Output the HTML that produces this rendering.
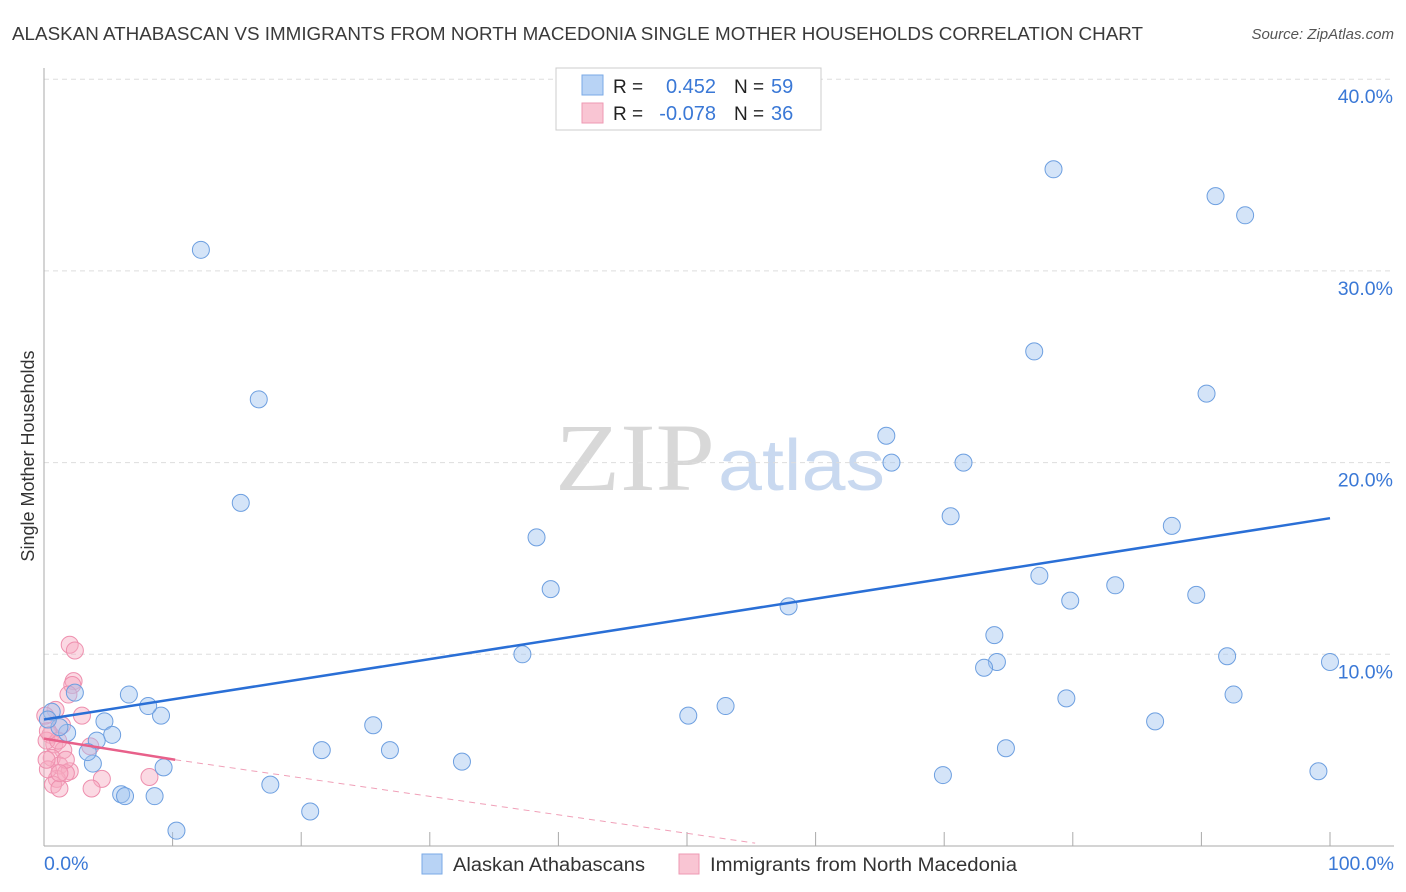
<!DOCTYPE html>
<html><head><meta charset="utf-8"><style>
body{margin:0;background:#fff;width:1406px;height:892px;overflow:hidden;font-family:"Liberation Sans",sans-serif}
svg{display:block}
</style></head><body>
<svg id="chart" width="1406" height="892" xmlns="http://www.w3.org/2000/svg">
<text x="12" y="40" font-size="18" fill="#3a3a3a" textLength="1131" lengthAdjust="spacingAndGlyphs">ALASKAN ATHABASCAN VS IMMIGRANTS FROM NORTH MACEDONIA SINGLE MOTHER HOUSEHOLDS CORRELATION CHART</text>
<text x="1394" y="39" font-size="15" fill="#555" font-style="italic" text-anchor="end">Source: ZipAtlas.com</text>
<text x="555" y="490" font-size="96" font-family="Liberation Serif, serif" fill="#ddd"><tspan fill="#d8d8d8" textLength="160" lengthAdjust="spacingAndGlyphs">ZIP</tspan><tspan x="718" fill="#c9d9f0" font-family="Liberation Sans, sans-serif" font-size="72" textLength="167" lengthAdjust="spacingAndGlyphs">atlas</tspan></text>
<text transform="translate(34,456) rotate(-90)" font-size="18" fill="#333" text-anchor="middle">Single Mother Households</text>
<g id="grid"></g><g id="axes"></g><g id="lines"></g><g id="points"></g>
<g>
<rect x="556" y="68" width="265" height="62" fill="#fff" stroke="#ccc"/>
<rect x="582" y="75" width="21" height="20" fill="#b8d3f5" stroke="#7aaae6"/>
<rect x="582" y="103" width="21" height="20" fill="#f9c5d3" stroke="#ee99b3"/>
<text x="613" y="93" font-size="19" fill="#222">R = </text><text x="716" y="93" font-size="20" fill="#3a78d6" text-anchor="end">0.452</text>
<text x="734" y="93" font-size="19" fill="#222">N = </text><text x="771" y="93" font-size="20" fill="#3a78d6">59</text>
<text x="613" y="120" font-size="19" fill="#222">R = </text><text x="716" y="120" font-size="20" fill="#3a78d6" text-anchor="end">-0.078</text>
<text x="734" y="120" font-size="19" fill="#222">N = </text><text x="771" y="120" font-size="20" fill="#3a78d6">36</text>
</g>
<g>
<rect x="422" y="854" width="20" height="20" fill="#b8d3f5" stroke="#7aaae6"/>
<text x="453" y="871" font-size="19" fill="#333" textLength="192" lengthAdjust="spacingAndGlyphs">Alaskan Athabascans</text>
<rect x="679" y="854" width="20" height="20" fill="#f9c5d3" stroke="#ee99b3"/>
<text x="710" y="871" font-size="19" fill="#333" textLength="307" lengthAdjust="spacingAndGlyphs">Immigrants from North Macedonia</text>
</g>
</svg>
<script>
const yTicks=[10,20,30,40];
const yTickLabels=["10.0%","20.0%","30.0%","40.0%"];
const xTickLabels=["0.0%","100.0%"];
const blueX=[12.2,16.7,15.3,38.3,39.4,37.2,21.6,26.9,25.6,32.5,17.6,20.7,10.3,9.3,8.6,6.0,6.3,9.1,8.1,6.6,4.7,5.3,4.1,3.8,3.4,2.4,1.8,1.2,0.6,0.3,57.9,50.1,53.0,65.5,65.9,71.5,70.5,78.5,77.0,77.4,79.8,83.3,73.9,74.1,73.1,79.5,74.8,69.9,91.1,93.4,90.4,87.7,89.6,92.0,92.5,86.4,100,99.1];
const blueY=[31.1,23.3,17.9,16.1,13.4,10.0,5.0,5.0,6.3,4.4,3.2,1.8,0.8,4.1,2.6,2.7,2.6,6.8,7.3,7.9,6.5,5.8,5.5,4.3,4.9,8.0,5.9,6.2,7.0,6.6,12.5,6.8,7.3,21.4,20.0,20.0,17.2,35.3,25.8,14.1,12.8,13.6,11.0,9.6,9.3,7.7,5.1,3.7,33.9,32.9,23.6,16.7,13.1,9.9,7.9,6.5,9.6,3.9];
const pinkX=[2.0,2.4,2.3,2.2,1.9,2.95,0.9,1.4,0.5,0.8,1.5,0.6,1.2,2.0,1.0,0.7,1.2,1.7,0.3,3.6,4.5,3.7,8.2,0.2,0.2,1.1,1.7,0.3,1.2,0.1];
const pinkY=[10.5,10.2,8.6,8.4,7.9,6.8,7.1,6.3,5.8,5.3,5.0,4.6,4.2,3.9,3.5,3.2,3.0,3.8,4.0,5.2,3.5,3.0,3.6,5.5,4.5,5.5,4.5,6.0,3.8,6.8];
const blueTrend=[[0,6.6],[100,17.1]];
const pinkTrendSolid=[[0,5.6],[10.2,4.5]];
const pinkTrendDash=[[10.2,4.5],[55.3,0.15]];
const X=v=>44+v*12.86, Y=v=>846-v*19.17;
const NS="http://www.w3.org/2000/svg";
function mk(tag,attrs,parent){const e=document.createElementNS(NS,tag);for(const k in attrs)e.setAttribute(k,attrs[k]);document.getElementById(parent).appendChild(e);return e;}
yTicks.forEach((t,i)=>{
 const l=mk('line',{x1:44,x2:1394,y1:Y(t),y2:Y(t),stroke:'#ddd','stroke-dasharray':'5,4'},'grid');
 
 
 const tx=mk('text',{x:1393,y:Y(t)+24,'font-size':19.5,fill:'#3a78d6','text-anchor':'end'},'grid');
 tx.textContent=yTickLabels[i];
 
 
});
const ax=mk('line',{x1:44,x2:44,y1:68,y2:846,stroke:'#aaa'},'axes');


const bx=mk('line',{x1:44,x2:1394,y1:846,y2:846,stroke:'#aaa'},'axes');


for(let i=1;i<=10;i++){const t=mk('line',{x1:X(i*10),x2:X(i*10),y1:832,y2:846,stroke:'#aaa'},'axes');
 
 }
[[0,'start',44],[100,'end',1394]].forEach((a,i)=>{const t=mk('text',{x:a[2],y:870,'font-size':19.5,fill:'#3a78d6','text-anchor':a[1]},'axes');t.textContent=xTickLabels[i];
 
 });
function ln(p,stroke,w,dash,name){const l=mk('line',{x1:X(p[0][0]),y1:Y(p[0][1]),x2:X(p[1][0]),y2:Y(p[1][1]),stroke:stroke,'stroke-width':w},'lines');if(dash)l.setAttribute('stroke-dasharray',dash);
 
 }
ln(pinkTrendDash,'#f0a0b8',1,'6,5','pink-trend-extension');
pinkX.forEach((x,i)=>{const c=mk('circle',{cx:X(x),cy:Y(pinkY[i]),r:8.5,fill:'rgba(246,170,194,0.45)',stroke:'#ee8fae','stroke-width':1},'points');
 
 });
blueX.forEach((x,i)=>{const c=mk('circle',{cx:X(x),cy:Y(blueY[i]),r:8.5,fill:'rgba(160,196,240,0.45)',stroke:'#6d9fe0','stroke-width':1},'points');
 
 });
ln(blueTrend,'#2a6fd6',2.5,null,'blue-trend-line');
ln(pinkTrendSolid,'#e8608a',2.5,null,'pink-trend-line');
document.getElementById('chart').appendChild(document.getElementById('lines'));
</script>
</body></html>
